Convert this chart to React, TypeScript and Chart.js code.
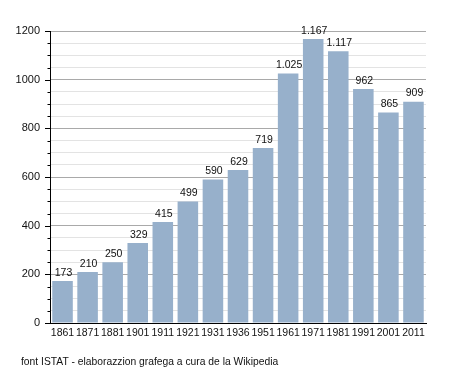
import React, { useEffect, useRef } from "react";
import { Chart, registerables } from "chart.js";

Chart.register(...registerables);

const years = ["1861", "1871", "1881", "1901", "1911", "1921", "1931", "1936", "1951", "1961", "1971", "1981", "1991", "2001", "2011"];
const population = [173, 210, 250, 329, 415, 499, 590, 629, 719, 1025, 1167, 1117, 962, 865, 909];
const footerText = "font ISTAT - elaborazzion grafega a cura de la Wikipedia";

const FONT = "'Liberation Sans', Arial, sans-serif";
const BAR_COLOR = "#97b0cb";

function fmt(v: number): string {
  const s = String(Math.round(v));
  return s.replace(/\B(?=(\d{3})+(?!\d))/g, ".");
}

const extrasPlugin = {
  id: "extras",
  afterDatasetsDraw(chart: any) {
    const ctx = chart.ctx;
    const meta = chart.getDatasetMeta(0);
    ctx.save();
    ctx.font = `10.5px ${FONT}`;
    ctx.fillStyle = "#111";
    ctx.textAlign = "center";
    ctx.textBaseline = "bottom";
    meta.data.forEach((bar: any, i: number) => {
      ctx.fillText(fmt(population[i]), bar.x + 1, bar.y - 3);
    });
    ctx.restore();
  },
  afterDraw(chart: any) {
    const ctx = chart.ctx;
    const y = chart.scales.y;
    const left = chart.chartArea.left;
    ctx.save();
    ctx.strokeStyle = "#000";
    ctx.lineWidth = 1;
    y.ticks.forEach((t: any) => {
      const py = Math.round(y.getPixelForValue(t.value)) + 0.5;
      const len = t.value % 200 === 0 ? 5 : 2.5;
      ctx.beginPath();
      ctx.moveTo(left - len, py);
      ctx.lineTo(left, py);
      ctx.stroke();
    });
    ctx.font = `10.3px ${FONT}`;
    ctx.fillStyle = "#111";
    ctx.textAlign = "left";
    ctx.textBaseline = "middle";
    ctx.fillText(footerText, 21, 362);
    ctx.restore();
  },
};

export default function App() {
  const ref = useRef<HTMLCanvasElement>(null);
  useEffect(() => {
    if (!ref.current) return;
    const chart = new Chart(ref.current, {
      type: "bar",
      data: {
        labels: years,
        datasets: [
          {
            data: population,
            backgroundColor: BAR_COLOR,
            borderWidth: 0,
            categoryPercentage: 1,
            barPercentage: 0.82,
          },
        ],
      },
      options: {
        responsive: false,
        animation: false,
        layout: { padding: { top: 31, right: 29, bottom: 32, left: 0 } },
        plugins: {
          legend: { display: false },
          tooltip: { enabled: false },
          title: { display: false },
        },
        scales: {
          x: {
            grid: { display: false, drawTicks: false },
            border: { color: "#000", width: 1 },
            ticks: {
              font: { family: FONT, size: 10.5 },
              color: "#111",
              padding: 4,
              maxRotation: 0,
              autoSkip: false,
            },
            afterFit(scale: any) {
              scale.height = 18;
            },
          },
          y: {
            min: 0,
            max: 1200,
            grid: {
              drawTicks: false,
              color: (c: any) => (c.tick && c.tick.value % 200 === 0 ? "#a9a9a9" : "#e3e3e3"),
            },
            border: { color: "#000", width: 1 },
            ticks: {
              stepSize: 50,
              autoSkip: false,
              font: { family: FONT, size: 11 },
              color: "#111",
              padding: 10,
              callback: (v: any) => (Number(v) % 200 === 0 ? String(v) : ""),
            },
            afterFit(scale: any) {
              scale.width = 50;
            },
          },
        },
      },
      plugins: [extrasPlugin],
    });
    return () => chart.destroy();
  }, []);
  return (
    <div style={{ position: "fixed", left: 0, top: 0, width: 455, height: 373, background: "#fff" }}>
      <canvas ref={ref} width={455} height={373} />
    </div>
  );
}
